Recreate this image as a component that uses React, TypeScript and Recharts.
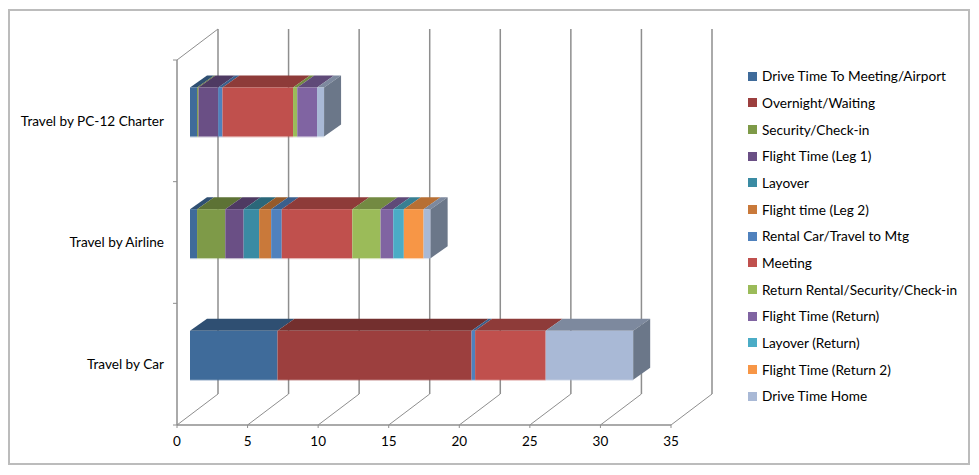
import React from 'react';
import { BarChart, Bar, XAxis, YAxis, CartesianGrid, Legend } from 'recharts';

const categories = ['Travel by PC-12 Charter', 'Travel by Airline', 'Travel by Car'];

const seriesNames = [
    'Drive Time To Meeting/Airport',
    'Overnight/Waiting',
    'Security/Check-in',
    'Flight Time (Leg 1)',
    'Layover',
    'Flight time (Leg 2)',
    'Rental Car/Travel to Mtg',
    'Meeting',
    'Return Rental/Security/Check-in',
    'Flight Time (Return)',
    'Layover (Return)',
    'Flight Time (Return 2)',
    'Drive Time Home',
];

// one list per series, same order as categories
const driveToMeeting = [0.5, 0.5, 6.2];
const overnight = [0, 0, 13.75];
const security = [0.1, 2, 0];
const flightLeg1 = [1.4, 1.3, 0];
const layover = [0, 1.1, 0];
const flightLeg2 = [0, 0.85, 0];
const rentalCar = [0.3, 0.75, 0.25];
const meeting = [5, 5, 5];
const returnRental = [0.3, 2, 0];
const flightReturn = [1.4, 0.9, 0];
const layoverReturn = [0, 0.75, 0];
const flightReturn2 = [0, 1.4, 0];
const driveHome = [0.5, 0.5, 6.2];

const seriesValues = [
    driveToMeeting, overnight, security, flightLeg1, layover, flightLeg2, rentalCar,
    meeting, returnRental, flightReturn, layoverReturn, flightReturn2, driveHome,
];

const xTicks = [0, 5, 10, 15, 20, 25, 30, 35];

const COLORS = [
    '#3f6b9a', '#9c3f3e', '#7e9a48', '#6a4f85', '#3a8ba3', '#c9793a', '#4f81bd',
    '#c0504d', '#9bbb59', '#8064a2', '#4bacc6', '#f79646', '#a9b9d6',
];

const tableData = categories.map((name, i) => {
    const row: Record<string, string | number> = { name };
    seriesNames.forEach((s, j) => { row[s] = seriesValues[j][i]; });
    return row;
});

const WIDTH = 979;
const HEIGHT = 475;
const X_AXIS_H = 50;
const MARGIN = { top: 60, right: 308, bottom: 0, left: 0 };
const BAND = (HEIGHT - MARGIN.top - X_AXIS_H) / categories.length;
const AXIS_COLOR = '#8e8e8e';
const FONT = 'Lato, sans-serif';

// the fake 3d depth: back wall offset and bar depth
const WALL_DX = 41;
const WALL_DY = 31;
const BAR_DX = 17;
const BAR_DY = 12;
const BAR_SHIFT_X = 13;
const BAR_SHIFT_Y = -8.5;

const darken = (hex: string, f: number) => {
    const n = parseInt(hex.slice(1), 16);
    const c = [(n >> 16) & 255, (n >> 8) & 255, n & 255].map(v => Math.round(v * f));
    return `rgb(${c[0]},${c[1]},${c[2]})`;
};

const Box3D = (props: any) => {
    const { width, height, color, last } = props;
    if (!width || width <= 0) return null;
    const x = props.x + BAR_SHIFT_X;
    const y = props.y + BAR_SHIFT_Y;
    const top = `${x},${y} ${x + width},${y} ${x + width + BAR_DX},${y - BAR_DY} ${x + BAR_DX},${y - BAR_DY}`;
    const side = `${x + width},${y} ${x + width + BAR_DX},${y - BAR_DY} ${x + width + BAR_DX},${y + height - BAR_DY} ${x + width},${y + height}`;
    return (
        <g>
            <polygon points={top} fill={darken(color, 0.74)} />
            <rect x={x} y={y} width={width} height={height} fill={color} />
            <rect x={x} y={y + height} width={width} height={1} fill={color} opacity={0.35} />
            {last && <polygon points={side} fill="#6b7789" />}
        </g>
    );
};

const GridLine = (props: any) => {
    const { x1, y1, y2, index } = props;
    return (
        <g key={`grid-${index}`}>
            <line x1={x1} y1={y2} x2={x1 + WALL_DX} y2={y2 - WALL_DY} stroke={AXIS_COLOR} strokeWidth={1} />
            <line x1={x1 + WALL_DX} y1={y1 - WALL_DY} x2={x1 + WALL_DX} y2={y2 - WALL_DY} stroke={AXIS_COLOR} strokeWidth={1.5} />
            {index === 0 && <line x1={x1} y1={y1} x2={x1 + WALL_DX} y2={y1 - WALL_DY} stroke={AXIS_COLOR} strokeWidth={1} />}
        </g>
    );
};

const CategoryTick = (props: any) => {
    const { x, y, payload, index } = props;
    return (
        <g>
            <text x={x - 13} y={y + 1.5} textAnchor="end" dominantBaseline="middle" fontSize={13.6} fontFamily={FONT} fill="#000">
                {payload.value}
            </text>
            <line x1={x - 4} x2={x} y1={y - BAND / 2} y2={y - BAND / 2} stroke={AXIS_COLOR} />
            {index === categories.length - 1 && <line x1={x - 4} x2={x} y1={y + BAND / 2} y2={y + BAND / 2} stroke={AXIS_COLOR} />}
        </g>
    );
};

const LegendList = ({ payload }: any) => (
    <div style={{ fontFamily: FONT, fontSize: 13.65, color: '#000' }}>
        {(payload || []).map((item: any) => (
            <div key={item.value} style={{ display: 'flex', alignItems: 'center', height: 26.67, whiteSpace: 'nowrap' }}>
                <span style={{ width: 9, height: 9, background: item.color, marginRight: 5, display: 'inline-block' }} />
                {item.value}
            </div>
        ))}
    </div>
);

export default function App() {
    return (
        <div style={{ position: 'absolute', left: 0, top: 0, width: WIDTH, height: HEIGHT, background: '#fff' }}>
            <div style={{ position: 'absolute', left: 8, top: 9, width: 958, height: 452, border: '2px solid #bcbcbc' }} />
            <BarChart
                width={WIDTH}
                height={HEIGHT}
                data={tableData}
                layout="vertical"
                margin={MARGIN}
                barSize={49}
                style={{ position: 'absolute', left: 0, top: 0 }}
            >
                <CartesianGrid horizontal={false} vertical={GridLine} />
                <XAxis
                    type="number"
                    domain={[0, 35]}
                    ticks={xTicks}
                    height={X_AXIS_H}
                    tickLine={{ stroke: AXIS_COLOR }}
                    tickSize={3}
                    axisLine={{ stroke: AXIS_COLOR, strokeWidth: 1.5 }}
                    tick={{ fontSize: 13.5, fontFamily: FONT, fill: '#000' }}
                    tickMargin={8}
                />
                <YAxis
                    type="category"
                    dataKey="name"
                    width={177}
                    tickLine={false}
                    tickSize={0}
                    tickMargin={0}
                    axisLine={{ stroke: AXIS_COLOR, strokeWidth: 1.5 }}
                    tick={CategoryTick}
                    interval={0}
                />
                <Legend
                    layout="vertical"
                    align="center"
                    verticalAlign="middle"
                    content={LegendList}
                    itemSorter={null}
                    wrapperStyle={{ left: 748, top: 63, width: 221, bottom: 'auto' }}
                />
                {seriesNames.map((name, i) => (
                    <Bar
                        key={name}
                        dataKey={name}
                        name={name}
                        stackId="hours"
                        fill={COLORS[i]}
                        isAnimationActive={false}
                        shape={(p: any) => <Box3D {...p} color={COLORS[i]} last={i === seriesNames.length - 1} />}
                    />
                ))}
            </BarChart>
        </div>
    );
}
